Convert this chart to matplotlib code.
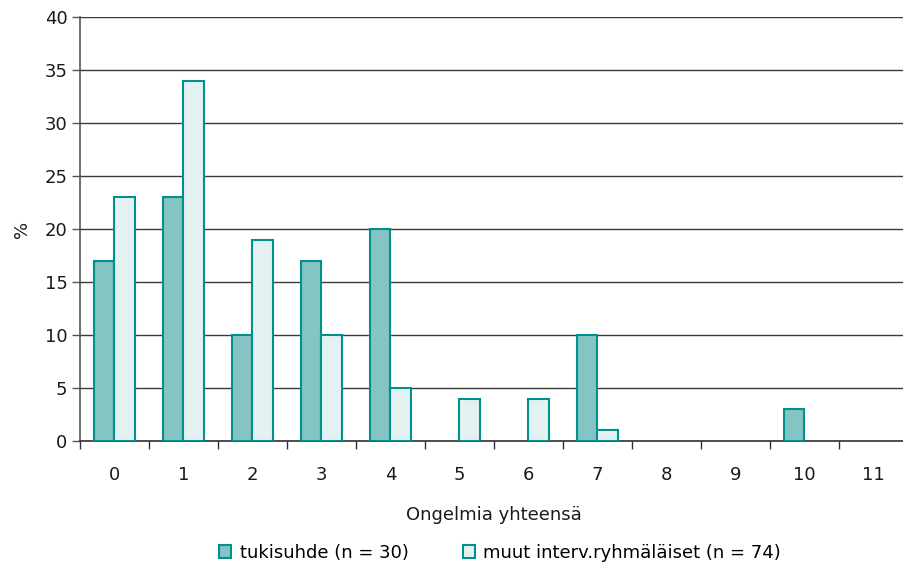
import matplotlib
matplotlib.use("Agg")
import matplotlib.pyplot as plt
import numpy as np

categories = ["0", "1", "2", "3", "4", "5", "6", "7", "8", "9", "10", "11"]
tukisuhde = [17, 23, 10, 17, 20, 0, 0, 10, 0, 0, 3, 0]
muut = [23, 34, 19, 10, 5, 4, 4, 1, 0, 0, 0, 0]
series_labels = ["tukisuhde (n = 30)", "muut interv.ryhmäläiset (n = 74)"]
y_ticks = [0, 5, 10, 15, 20, 25, 30, 35, 40]

plt.rcParams["font.family"] = ["DejaVu Sans"]
FS = 13
TXT = "#1a1a1a"

fig = plt.figure(figsize=(9.04, 5.68), dpi=100)
ax = fig.add_axes([80 / 904, 1 - 441 / 568, 828 / 904, 424 / 568])

x = np.arange(len(categories))
w = 0.3
edge = "#00918D"
b1 = ax.bar(x - w / 2, tukisuhde, w, color="#84C4C3", edgecolor=edge, linewidth=1.5,
            label=series_labels[0], zorder=3)
b2 = ax.bar(x + w / 2, muut, w, color="#E3F2F1", edgecolor=edge, linewidth=1.5,
            label=series_labels[1], zorder=3)
# empty categories leave no outline on the baseline
for bars, vals in ((b1, tukisuhde), (b2, muut)):
    for p, v in zip(bars.patches, vals):
        if v == 0:
            p.set_visible(False)

ax.set_xlim(-0.5, len(categories) - 0.5)
ax.set_ylim(0, 40)
ax.set_yticks(y_ticks)
ax.yaxis.grid(True, color="#3a3a3a", linewidth=1.0, zorder=0)
ax.set_axisbelow(True)

# category boundaries carry the tick marks, centers carry the labels
ax.set_xticks(np.arange(-0.5, len(categories) - 0.5, 1.0))
ax.set_xticklabels([])
ax.set_xticks(x, minor=True)
ax.set_xticklabels(categories, minor=True)
ax.tick_params(axis="x", which="major", length=6, width=1, color="#333333", direction="out")
ax.tick_params(axis="x", which="minor", length=0, pad=18, labelsize=FS, labelcolor=TXT)
ax.tick_params(axis="y", length=6, width=1, color="#555555", labelsize=FS,
               labelcolor=TXT, pad=3)

for s in ["top", "right"]:
    ax.spines[s].set_visible(False)
ax.spines["left"].set_color("#555555")
ax.spines["left"].set_linewidth(1.2)
ax.spines["bottom"].set_color("#333333")
ax.spines["bottom"].set_linewidth(1.2)

ax.set_ylabel("%", fontsize=FS, color=TXT, labelpad=10)
ax.set_xlabel("Ongelmia yhteensä", fontsize=FS, color=TXT, labelpad=16)

handles, labels = ax.get_legend_handles_labels()
fig.legend(handles, labels, loc="center", bbox_to_anchor=(0.553, 1 - 553 / 568), ncol=2,
           frameon=False, fontsize=FS, handlelength=0.7, handleheight=0.7,
           handletextpad=0.45, columnspacing=3.0)

fig.savefig("out.png", dpi=100)
